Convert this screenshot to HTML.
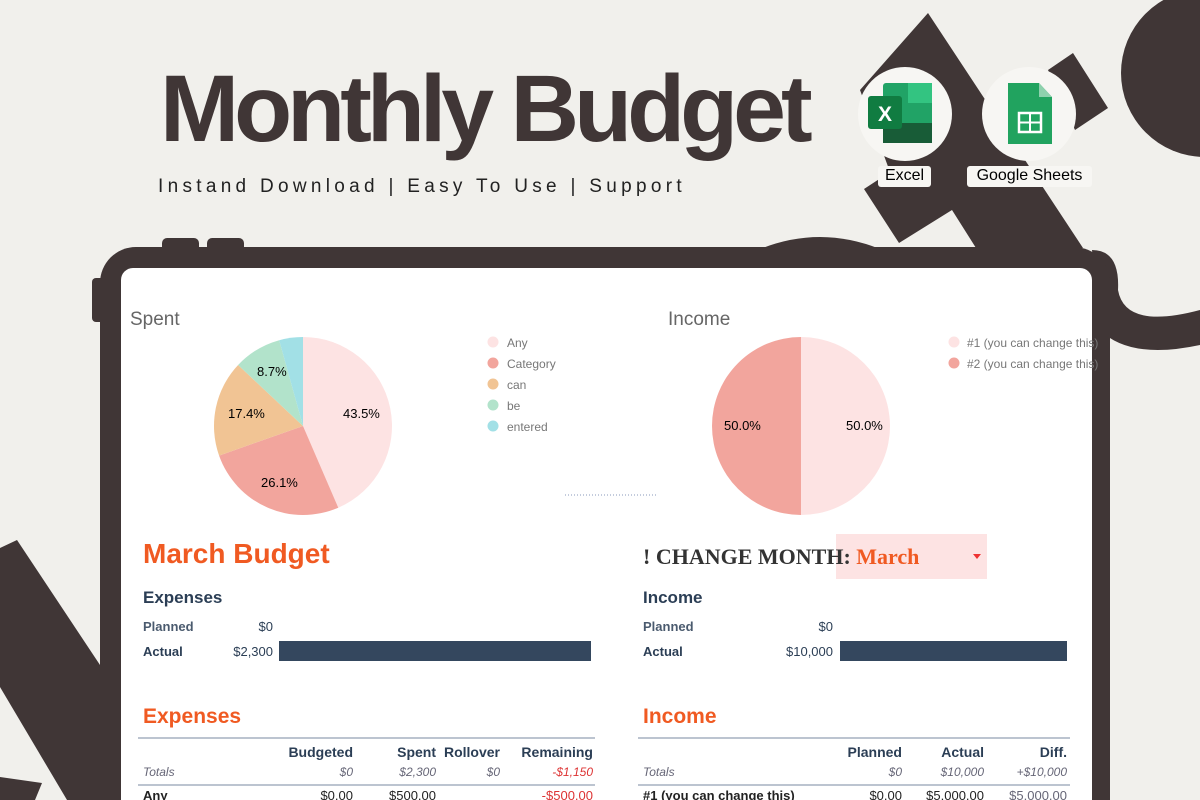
<!DOCTYPE html>
<html><head><meta charset="utf-8"><style>
*{margin:0;padding:0;box-sizing:border-box}
html,body{width:1200px;height:800px;overflow:hidden}
body{background:#f1f0ec;font-family:"Liberation Sans",sans-serif;position:relative}
.a{position:absolute;white-space:nowrap}
.navy{color:#2b3e55}
.or{color:#f05a22;font-weight:bold}
.r{text-align:right}
</style></head><body>
<svg class="a" style="left:0;top:0" width="1200" height="800">
<circle cx="1205" cy="73" r="84" fill="#403636"/>
<polygon points="928,13 1083,248 976,248 952,210 899,243 864,189 890,172 860,90" fill="#403636"/>
<polygon points="1048,70 1073,53 1108,108 1075,130" fill="#403636"/>
<path d="M1092,250 Q1120,250 1118,290 Q1125,330 1200,310 L1200,345 Q1130,360 1100,330 Z" fill="#403636"/>
<polygon points="0,548 17,540 100,665 100,800 67,800 0,687" fill="#403636"/>
<polygon points="0,777 42,783 35,800 0,800" fill="#403636"/>
<rect x="162" y="238" width="37" height="20" rx="5" fill="#403636"/>
<rect x="207" y="238" width="37" height="20" rx="5" fill="#403636"/>
<rect x="92" y="278" width="14" height="44" rx="4" fill="#403636"/>
<path d="M760,249 Q820,225 880,249Z" fill="#403636"/>
<rect x="100" y="247" width="1010" height="600" rx="36" fill="#403636"/>
<rect x="121" y="268" width="971" height="600" rx="12" fill="#fff"/>
<path d="M303,426 L303,337 A89,89 0 0 1 338.3,507.7Z" fill="#fde3e3"/>
<path d="M303,426 L338.3,507.7 A89,89 0 0 1 219.1,455.6Z" fill="#f2a59d"/>
<path d="M303,426 L219.1,455.6 A89,89 0 0 1 238.1,365Z" fill="#f1c494"/>
<path d="M303,426 L238.1,365 A89,89 0 0 1 279.2,340.2Z" fill="#b2e3cb"/>
<path d="M303,426 L279.2,340.2 A89,89 0 0 1 303,337Z" fill="#a2e0e6"/>
<path d="M801,426 L801,337 A89,89 0 0 1 801,515Z" fill="#fde3e3"/>
<path d="M801,426 L801,515 A89,89 0 0 1 801,337Z" fill="#f2a59d"/>
<circle cx="493" cy="342" r="5.5" fill="#fde3e3"/>
<circle cx="493" cy="363" r="5.5" fill="#f2a59d"/>
<circle cx="493" cy="384" r="5.5" fill="#f1c494"/>
<circle cx="493" cy="405" r="5.5" fill="#b2e3cb"/>
<circle cx="493" cy="426" r="5.5" fill="#a2e0e6"/>
<circle cx="954" cy="342" r="5.5" fill="#fde3e3"/>
<circle cx="954" cy="363" r="5.5" fill="#f2a59d"/>
<line x1="565" y1="495" x2="658" y2="495" stroke="#8899bb" stroke-dasharray="1,2"/>
<circle cx="905" cy="114" r="47" fill="#f7f6f3"/>
<circle cx="1029" cy="114" r="47" fill="#f7f6f3"/>
<rect x="883" y="83" width="49" height="60" rx="3" fill="#21a366"/>
<rect x="908" y="83" width="24" height="20" fill="#33c481"/>
<rect x="883" y="123" width="49" height="20" fill="#185c37"/>
<rect x="868" y="96" width="34" height="33" rx="3" fill="#107c41"/>
<text x="885" y="121" fill="#fff" font-size="21" font-family="Liberation Sans" font-weight="bold" text-anchor="middle">X</text>
<path d="M1008,83 L1039,83 L1052,97 L1052,144 L1008,144Z" fill="#21a35f"/>
<path d="M1039,83 L1052,97 L1039,97Z" fill="#8ed1ad"/>
<rect x="1019" y="113" width="22" height="19" fill="none" stroke="#fff" stroke-width="2.5"/>
<line x1="1019" y1="122.5" x2="1041" y2="122.5" stroke="#fff" stroke-width="2"/>
<line x1="1030" y1="113" x2="1030" y2="132" stroke="#fff" stroke-width="2"/>
<rect x="878" y="166" width="53" height="21" rx="3" fill="#f7f6f3"/>
<rect x="967" y="166" width="125" height="21" rx="3" fill="#f7f6f3"/>
<rect x="836" y="534" width="151" height="45" fill="#fde3e3"/>
<polygon points="973,554 981,554 977,559" fill="#e33"/>
<rect x="279" y="641" width="312" height="20" fill="#34475e"/>
<rect x="840" y="641" width="227" height="20" fill="#34475e"/>
<g stroke="#bcc4d0" stroke-width="2"><line x1="138" y1="738" x2="595" y2="738"/><line x1="138" y1="785" x2="595" y2="785"/><line x1="638" y1="738" x2="1070" y2="738"/><line x1="638" y1="785" x2="1070" y2="785"/></g>
</svg>
<div class="a" style="left:160px;top:55px;font-size:95px;font-weight:bold;color:#403636;letter-spacing:-5px">Monthly Budget</div>
<div class="a" style="left:158px;top:176px;font-size:19px;letter-spacing:4.3px;color:#222">Instand Download | Easy To Use | Support</div>
<div class="a" style="left:878px;top:167px;width:53px;text-align:center;font-size:16px">Excel</div>
<div class="a" style="left:967px;top:167px;width:125px;text-align:center;font-size:16px">Google Sheets</div>
<div class="a" style="left:130px;top:309px;font-size:19px;color:#666">Spent</div>
<div class="a" style="left:668px;top:309px;font-size:19px;color:#666">Income</div>
<div class="a" style="left:507px;top:333px;font-size:12px;color:#777;line-height:21px">Any<br>Category<br>can<br>be<br>entered</div>
<div class="a" style="left:967px;top:333px;font-size:12px;color:#777;line-height:21px">#1 (you can change this)<br>#2 (you can change this)</div>
<div class="a" style="font-size:13px;left:343px;top:406px">43.5%</div>
<div class="a" style="font-size:13px;left:261px;top:475px">26.1%</div>
<div class="a" style="font-size:13px;left:228px;top:406px">17.4%</div>
<div class="a" style="font-size:13px;left:257px;top:364px">8.7%</div>
<div class="a" style="font-size:13px;left:724px;top:418px">50.0%</div>
<div class="a" style="font-size:13px;left:846px;top:418px">50.0%</div>
<div class="a or" style="left:143px;top:538px;font-size:28px">March Budget</div>
<div class="a" style="left:643px;top:544px;font-size:22px;font-weight:bold;color:#333;font-family:'Liberation Serif',serif">! CHANGE MONTH: <span style="color:#f05a22">March</span></div>
<div class="a navy" style="left:143px;top:588px;font-size:17px;font-weight:bold">Expenses</div>
<div class="a navy" style="left:643px;top:588px;font-size:17px;font-weight:bold">Income</div>
<div class="a navy" style="left:143px;top:619px;font-size:13px;font-weight:bold;opacity:.85">Planned</div>
<div class="a navy" style="left:143px;top:644px;font-size:13px;font-weight:bold">Actual</div>
<div class="a navy r" style="left:200px;width:73px;top:619px;font-size:13px">$0</div>
<div class="a navy r" style="left:200px;width:73px;top:644px;font-size:13px">$2,300</div>
<div class="a navy" style="left:643px;top:619px;font-size:13px;font-weight:bold;opacity:.85">Planned</div>
<div class="a navy" style="left:643px;top:644px;font-size:13px;font-weight:bold">Actual</div>
<div class="a navy r" style="left:760px;width:73px;top:619px;font-size:13px">$0</div>
<div class="a navy r" style="left:760px;width:73px;top:644px;font-size:13px">$10,000</div>
<div class="a or" style="left:143px;top:705px;font-size:21px">Expenses</div>
<div class="a or" style="left:643px;top:705px;font-size:21px">Income</div>
<div class="a navy" style="left:138px;top:744px;width:457px;font-size:14px;font-weight:bold">
<span class="a r" style="left:0;width:215px">Budgeted</span><span class="a r" style="left:0;width:298px">Spent</span><span class="a r" style="left:0;width:362px">Rollover</span><span class="a r" style="left:0;width:455px">Remaining</span></div>
<div class="a" style="left:138px;top:765px;width:457px;font-size:12px;font-style:italic;color:#667">
<span class="a" style="left:5px">Totals</span><span class="a r" style="left:0;width:215px">$0</span><span class="a r" style="left:0;width:298px">$2,300</span><span class="a r" style="left:0;width:362px">$0</span><span class="a r" style="left:0;width:455px;color:#d33">-$1,150</span></div>
<div class="a" style="left:138px;top:788px;width:457px;font-size:13px;color:#222">
<span class="a" style="left:5px;font-weight:bold">Any</span><span class="a r" style="left:0;width:215px">$0.00</span><span class="a r" style="left:0;width:298px">$500.00</span><span class="a r" style="left:0;width:455px;color:#d33">-$500.00</span></div>
<div class="a navy" style="left:638px;top:744px;width:432px;font-size:14px;font-weight:bold">
<span class="a r" style="left:0;width:264px">Planned</span><span class="a r" style="left:0;width:346px">Actual</span><span class="a r" style="left:0;width:429px">Diff.</span></div>
<div class="a" style="left:638px;top:765px;width:432px;font-size:12px;font-style:italic;color:#667">
<span class="a" style="left:5px">Totals</span><span class="a r" style="left:0;width:264px">$0</span><span class="a r" style="left:0;width:346px">$10,000</span><span class="a r" style="left:0;width:429px">+$10,000</span></div>
<div class="a" style="left:638px;top:788px;width:432px;font-size:13px;color:#222">
<span class="a" style="left:5px;font-weight:bold">#1 (you can change this)</span><span class="a r" style="left:0;width:264px">$0.00</span><span class="a r" style="left:0;width:346px">$5,000.00</span><span class="a r" style="left:0;width:429px;color:#667">$5,000.00</span></div>
</body></html>
